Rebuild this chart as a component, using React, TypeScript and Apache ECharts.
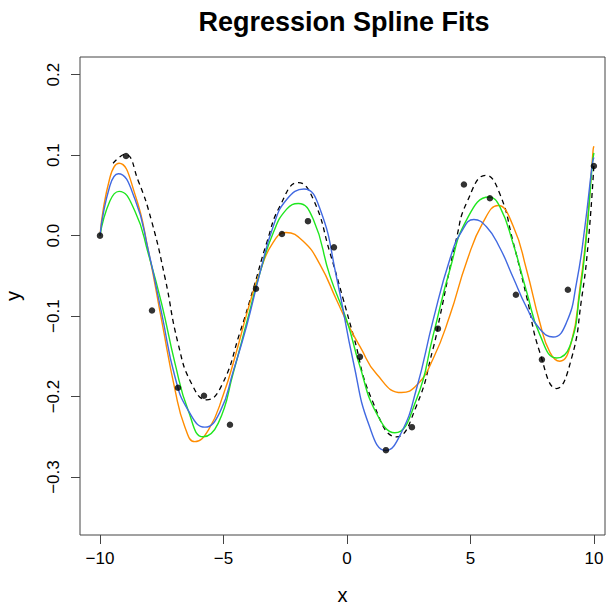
import React, { useEffect, useRef } from "react";
import * as echarts from "echarts";

// Observed data points
const pointX = [-10, -8.947, -7.895, -6.842, -5.789, -4.737, -3.684, -2.632, -1.579, -0.526,
  0.526, 1.579, 2.632, 3.684, 4.737, 5.789, 6.842, 7.895, 8.947, 10];
const pointY = [0.0, 0.099, -0.093, -0.189, -0.199, -0.235, -0.066, 0.002, 0.018, -0.0145,
  -0.1506, -0.2666, -0.238, -0.1156, 0.0635, 0.0465, -0.0735, -0.154, -0.0673, 0.0866];

// True function (dashed)
const trueCurve: [number, number][] = [
  [-9.47, 0.09], [-8.99, 0.101], [-8.45, 0.068], [-7.91, 0.018], [-7.37, -0.052], [-6.83, -0.135],
  [-6.29, -0.184], [-5.68, -0.204], [-5.07, -0.186], [-4.33, -0.12], [-3.79, -0.066],
  [-3.25, -0.009], [-2.71, 0.037], [-1.97, 0.066], [-1.36, 0.045], [-0.69, -0.021], [-0.15, -0.079],
  [0.26, -0.124], [1.0, -0.203], [2.01, -0.25], [2.82, -0.211], [3.49, -0.14], [3.77, -0.1],
  [4.44, -0.003], [4.85, 0.041], [5.63, 0.075], [6.19, 0.052], [6.73, -0.008], [7.27, -0.075],
  [7.81, -0.145], [8.49, -0.19], [9.09, -0.153], [9.5, -0.079], [9.77, -0.009], [10, 0.088],
];

// Blue spline fit
const blueCurve: [number, number][] = [
  [-10, 0.0], [-9.6, 0.062], [-9.26, 0.077], [-8.58, 0.045], [-8.04, -0.019], [-7.5, -0.097],
  [-6.96, -0.176], [-6.43, -0.217], [-5.75, -0.238], [-5.14, -0.219], [-4.6, -0.168], [-4.06, -0.112],
  [-3.52, -0.046], [-2.98, 0.012], [-2.44, 0.045], [-1.74, 0.058], [-1.09, 0.033], [-0.42, -0.052],
  [0.26, -0.157], [0.9, -0.236], [1.57, -0.267], [2.2, -0.245], [2.82, -0.19], [3.49, -0.105],
  [4.17, -0.029], [4.64, 0.005], [5.14, 0.02], [5.65, 0.011], [6.19, -0.015], [6.73, -0.052],
  [7.27, -0.089], [7.81, -0.116], [8.35, -0.126], [8.89, -0.108], [9.3, -0.058], [9.64, 0.012],
  [9.94, 0.09], [10, 0.097],
];

// Green spline fit
const greenCurve: [number, number][] = [
  [-10, 0.0], [-9.6, 0.043], [-9.23, 0.055], [-8.58, 0.03], [-8.04, -0.023], [-7.5, -0.085],
  [-6.96, -0.159], [-6.43, -0.217], [-5.82, -0.25], [-5.21, -0.233], [-4.6, -0.17], [-4.06, -0.108],
  [-3.52, -0.046], [-2.98, 0.004], [-2.44, 0.033], [-1.97, 0.04], [-1.36, 0.02], [-0.69, -0.05],
  [0.0, -0.106], [0.5, -0.16], [1.2, -0.221], [1.94, -0.245], [2.82, -0.203], [3.49, -0.124],
  [4.17, -0.042], [4.85, 0.02], [5.76, 0.048], [6.19, 0.036], [6.73, -0.01], [7.27, -0.069],
  [7.81, -0.123], [8.49, -0.152], [9.03, -0.137], [9.43, -0.071], [9.7, 0.0], [9.94, 0.09],
  [10, 0.103],
];

// Orange spline fit
const orangeCurve: [number, number][] = [
  [-10, 0.0], [-9.6, 0.072], [-9.23, 0.09], [-8.58, 0.051], [-8.04, -0.019], [-7.5, -0.106],
  [-6.96, -0.192], [-6.56, -0.238], [-6.16, -0.256], [-5.6, -0.241], [-5.0, -0.197], [-4.5, -0.147],
  [-4.0, -0.091], [-3.5, -0.043], [-3.0, -0.009], [-2.47, 0.004], [-1.77, -0.007], [-1.09, -0.036],
  [-0.42, -0.08], [0.12, -0.115], [0.53, -0.138], [1.2, -0.172], [2.21, -0.195], [2.82, -0.186],
  [3.49, -0.153], [4.17, -0.099], [4.85, -0.032], [5.52, 0.017], [6.12, 0.0375], [6.73, 0.012],
  [7.27, -0.042], [7.81, -0.108], [8.22, -0.145], [8.62, -0.156], [9.09, -0.132], [9.43, -0.066],
  [9.7, 0.004], [9.97, 0.107], [10, 0.111],
];

const xTicks = [-10, -5, 0, 5, 10];
const yTicks = [-0.3, -0.2, -0.1, 0, 0.1, 0.2];
const titleText = "Regression Spline Fits";

const FONT = "'Liberation Sans', Arial, Helvetica, sans-serif";

const fmtX = (v: number) => (v < 0 ? "\u2212" : "") + Math.abs(v).toString();
const fmtY = (v: number) => (v < -1e-9 ? "\u2212" : "") + Math.abs(v).toFixed(1);

export default function App() {
  const ref = useRef<HTMLDivElement>(null);
  useEffect(() => {
    if (!ref.current) return;
    const chart = echarts.init(ref.current, undefined, { renderer: "svg" });
    const lineBase = { type: "line", showSymbol: false, smooth: 0.5, silent: true };
    chart.setOption({
      animation: false,
      backgroundColor: "#fff",
      grid: {
        left: 80, top: 57, right: 1, bottom: 71,
        show: true, borderColor: "#444", borderWidth: 1,
        containLabel: false, outerBoundsMode: "none",
      },
      graphic: [
        {
          type: "text",
          x: 344,
          y: 22,
          style: {
            text: titleText,
            fontSize: 27,
            fontWeight: "bold",
            fontFamily: FONT,
            fill: "#000",
            textAlign: "center",
            textVerticalAlign: "middle",
          },
        },
      ],
      xAxis: {
        type: "value",
        min: -10.81,
        max: 10.45,
        splitLine: { show: false },
        axisLine: { show: false, onZero: false },
        axisTick: { show: true, length: 9, inside: false, lineStyle: { color: "#444" }, customValues: xTicks },
        axisLabel: { customValues: xTicks, formatter: fmtX, fontSize: 17, color: "#000", margin: 15, fontFamily: FONT },
        name: "x",
        nameLocation: "middle",
        nameGap: 50,
        nameTextStyle: { fontSize: 20, color: "#000", fontFamily: FONT },
      },
      yAxis: {
        type: "value",
        min: -0.372,
        max: 0.222,
        splitLine: { show: false },
        axisLine: { show: false, onZero: false },
        axisTick: { show: true, length: 9, inside: false, lineStyle: { color: "#444" }, customValues: yTicks },
        axisLabel: { customValues: yTicks, formatter: fmtY, fontSize: 17, color: "#000", margin: 18, rotate: 90, fontFamily: FONT },
        name: "y",
        nameLocation: "middle",
        nameGap: 57,
        nameTextStyle: { fontSize: 20, color: "#000", fontFamily: FONT },
      },
      series: [
        { ...lineBase, name: "true", data: trueCurve, z: 2, lineStyle: { color: "#000", width: 1.3, type: [5, 4] } },
        { ...lineBase, name: "orange", data: orangeCurve, z: 3, lineStyle: { color: "#FF8C00", width: 1.4 } },
        { ...lineBase, name: "green", data: greenCurve, z: 3, lineStyle: { color: "#1EE61E", width: 1.4 } },
        { ...lineBase, name: "blue", data: blueCurve, z: 3, lineStyle: { color: "#4169E1", width: 1.4 } },
        {
          type: "scatter",
          name: "points",
          data: pointX.map((x, i) => [x, pointY[i]]),
          symbol: "circle",
          symbolSize: 6.5,
          itemStyle: { color: "#000" },
          z: 4,
          silent: true,
        },
      ],
    });
    return () => chart.dispose();
  }, []);
  return (
    <div
      ref={ref}
      style={{ position: "fixed", left: 0, top: 0, width: 606, height: 606, background: "#fff" }}
    />
  );
}
